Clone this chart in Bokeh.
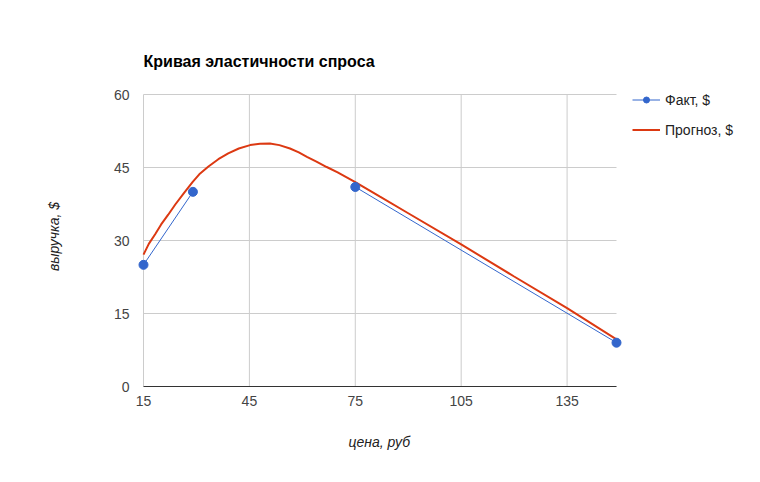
from bokeh.plotting import figure
from bokeh.models import Range1d, Legend, LegendItem, FixedTicker, Title
from bokeh.embed import file_html
from bokeh.resources import INLINE

NaN = float("nan")

# --- data ---
price_fact = [15, 29, 50, 75, 149]
revenue_fact = [25, 40, NaN, 41, 9]   # no fact value at 50 -> gap in the line

price_forecast = [15, 16.5, 18.3, 20, 22, 24, 26.5, 29, 30.8, 33.4, 36.2, 39.0, 42, 45.2, 48,
                  50.8, 53.5, 56.5, 59, 61.3, 64, 66.9, 70, 75, 82, 90, 105, 120, 135, 149]
revenue_forecast = [27.1, 29.3, 31.3, 33.3, 35.3, 37.4, 39.8, 42.1, 43.6, 45.2, 46.7, 47.9, 48.9, 49.6, 49.9,
                    49.95, 49.6, 48.9, 48.1, 47.2, 46.2, 45.1, 44.0, 42.0, 39.0, 35.6, 29.2, 22.6, 16.1, 9.7]

x_ticks = [15, 45, 75, 105, 135]
y_ticks = [0, 15, 30, 45, 60]
x_min, x_max = 15, 149
y_min, y_max = 0, 60

FONT = "Liberation Sans"

# pixel layout of the chart area
W, H = 752, 480
AREA_LEFT, AREA_RIGHT, AREA_TOP, AREA_BOTTOM = 143, 616, 94, 386
PAD_LEFT = 6                      # room so the first marker is not clipped
PAD_TOP = 8                       # room so the legend text is not clipped
FRAME_LEFT = AREA_LEFT - PAD_LEFT
FRAME_TOP = AREA_TOP - PAD_TOP
sx = (AREA_RIGHT - AREA_LEFT) / (x_max - x_min)
sy = (AREA_BOTTOM - AREA_TOP) / (y_max - y_min)
x_start = x_min - PAD_LEFT / sx
x_end = x_max + (W - AREA_RIGHT) / sx
y_end = y_max + PAD_TOP / sy

p = figure(width=W, height=H, output_backend="svg", toolbar_location=None,
           x_range=Range1d(x_start, x_end), y_range=Range1d(y_min, y_end),
           min_border_left=FRAME_LEFT, min_border_right=0,
           min_border_top=FRAME_TOP, min_border_bottom=H - AREA_BOTTOM)
p.outline_line_color = None
p.background_fill_color = "white"

p.title.text = "Кривая эластичности спроса"
p.title.text_font = FONT
p.title.text_font_size = "16px"
p.title.text_font_style = "bold"
p.title.text_color = "#000000"
p.title.align = "left"
p.title.offset = PAD_LEFT
p.title.standoff = 33

# axes
for ax in (p.xaxis[0], p.yaxis[0]):
    ax.major_tick_line_color = None
    ax.minor_tick_line_color = None
    ax.major_tick_in = 0
    ax.major_tick_out = 0
    ax.minor_tick_in = 0
    ax.minor_tick_out = 0
    ax.major_label_text_font = FONT
    ax.major_label_text_font_size = "14px"
    ax.major_label_text_color = "#444444"
    ax.axis_label_text_font = FONT
    ax.axis_label_text_font_size = "14px"
    ax.axis_label_text_font_style = "italic"
    ax.axis_label_text_color = "#222222"

p.xaxis.ticker = FixedTicker(ticks=x_ticks)
p.yaxis.ticker = FixedTicker(ticks=y_ticks)
p.yaxis.axis_label = "выручка, $"
p.xaxis.bounds = (x_min, x_max)
p.xaxis.axis_line_color = "#333333"
p.yaxis.axis_line_color = None
p.xaxis.major_label_standoff = 9
p.yaxis.major_label_standoff = 14 - PAD_LEFT
p.yaxis.axis_label_standoff = 49

# x-axis title, centred under the plotted area (not under the wider frame)
X_LABEL_WIDTH = 63
xtitle = Title(text="цена, руб", text_font=FONT, text_font_size="14px", text_font_style="italic",
               text_color="#222222", align="left",
               offset=(AREA_LEFT + AREA_RIGHT) / 2 - X_LABEL_WIDTH / 2 - FRAME_LEFT,
               standoff=46)
p.add_layout(xtitle, "below")

# grid lines limited to the data span (drawn from the tick lists)
p.xgrid.grid_line_color = None
p.ygrid.grid_line_color = None
p.segment(x0=[x_min] * len(y_ticks), x1=[x_max] * len(y_ticks), y0=y_ticks, y1=y_ticks,
          line_color="#cccccc", line_width=1, level="underlay")
p.segment(x0=x_ticks, x1=x_ticks, y0=[y_min] * len(x_ticks), y1=[y_max] * len(x_ticks),
          line_color="#cccccc", line_width=1, level="underlay")

# series
r_fc = p.line(price_forecast, revenue_forecast, line_color="#dc3912", line_width=2)
r_line = p.line(price_fact, revenue_fact, line_color="#3366cc", line_width=1)
r_pts = p.scatter(price_fact, revenue_fact, marker="circle", size=9,
                  fill_color="#3366cc", line_color="#3366cc")

legend = Legend(items=[LegendItem(label="Факт, $", renderers=[r_line, r_pts]),
                       LegendItem(label="Прогноз, $", renderers=[r_fc])],
                location=(632 - FRAME_LEFT, 248.5), orientation="vertical")
legend.border_line_color = None
legend.background_fill_alpha = 0
legend.padding = 0
legend.margin = 0
legend.spacing = 14
legend.glyph_width = 28
legend.glyph_height = 15
legend.label_height = 15
legend.label_width = 75
legend.label_standoff = 5
legend.label_text_font = FONT
legend.label_text_font_size = "14px"
legend.label_text_color = "#222222"
p.add_layout(legend, "center")

open("out.html", "w").write(file_html(p, INLINE))
